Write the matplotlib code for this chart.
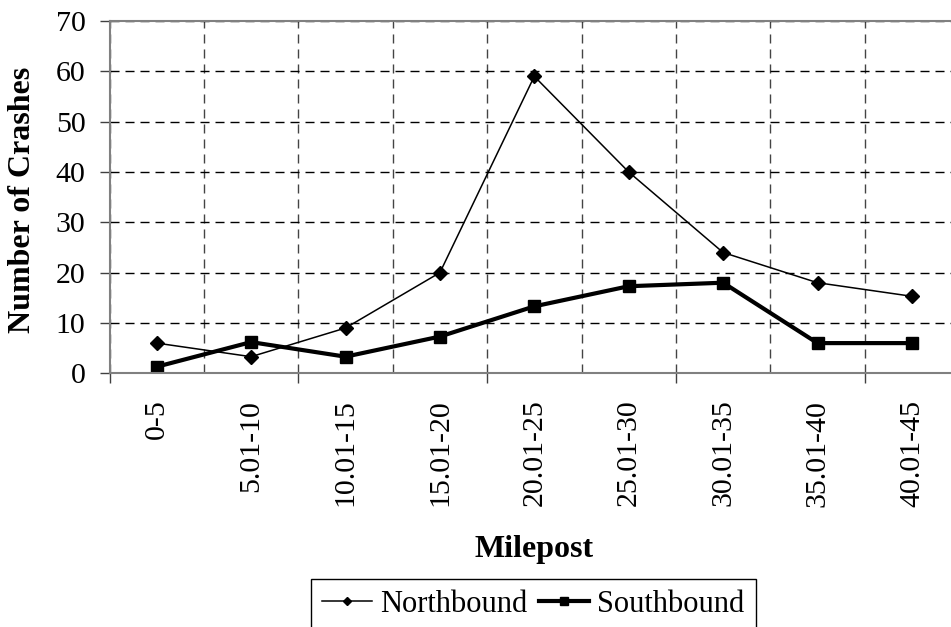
import matplotlib

matplotlib.use("Agg")
import matplotlib.pyplot as plt
import numpy as np

CATEGORIES = ["0-5", "5.01-10", "10.01-15", "15.01-20", "20.01-25",
              "25.01-30", "30.01-35", "35.01-40", "40.01-45"]
NORTHBOUND = [6, 3.3, 9, 20, 59, 40, 24, 18, 15.3]
SOUTHBOUND = [1.3, 6.2, 3.3, 7.3, 13.3, 17.3, 18, 6, 6]
Y_TICKS = [0, 10, 20, 30, 40, 50, 60, 70]

W, H = 951, 627
plt.rcParams["font.family"] = ["Liberation Serif", "DejaVu Serif"]

fig = plt.figure(figsize=(W / 100, H / 100), dpi=100)
# plot area runs past the right edge of the picture, as in the source
ax = fig.add_axes([109.5 / W, (H - 373.3) / H, 849.6 / W, 352.3 / H])

x = np.arange(len(CATEGORIES))
ax.plot(x, NORTHBOUND, "-D", color="black", lw=1.1, ms=7, label="Northbound")
ax.plot(x, SOUTHBOUND, "-s", color="black", lw=3.0, ms=8.5, label="Southbound")

ax.set_xlim(-0.5, len(CATEGORIES) - 0.5)
ax.set_ylim(0, 70)

# y axis
ax.set_yticks(Y_TICKS)
ax.tick_params(axis="y", direction="out", length=7.2, width=1, color="#404040",
               pad=10, labelsize=21.5)
ax.yaxis.grid(True, color="black", lw=1.0, ls=(0, (6.5, 4.3)))

# x axis: labels at category centres, grid/ticks at boundaries
ax.set_xticks(x)
ax.set_xticklabels(CATEGORIES, rotation=90, va="top", ha="center")
ax.tick_params(axis="x", which="major", length=0, pad=19, labelsize=21.5)
bounds = np.arange(len(CATEGORIES) + 1) - 0.5
ax.set_xticks(bounds, minor=True)
ax.tick_params(axis="x", which="minor", direction="out", length=7, width=1,
               color="#404040")
ax.xaxis.grid(True, which="minor", color="#444444", lw=1.0, ls=(0, (6.5, 4.3)))
for i, t in enumerate(ax.xaxis.get_minor_ticks()):
    if i % 2:
        t.tick1line.set_visible(False)
ax.set_axisbelow(True)

for s in ax.spines.values():
    s.set_color("#808080")
    s.set_linewidth(1.5)

fig.text(23 / W, 1 - 200 / H, "Number of Crashes", rotation=90, ha="center",
         va="center", fontsize=23, fontweight="bold")
fig.text(534 / W, 1 - 557 / H, "Milepost", ha="center", va="baseline",
         fontsize=23, fontweight="bold")

fig.legend(loc="upper left", bbox_to_anchor=(311 / W, 1 - 579 / H), ncol=2,
           fontsize=22, frameon=True, fancybox=False, framealpha=1,
           edgecolor="black", borderaxespad=0, borderpad=0.36,
           handlelength=1.64, handletextpad=0.26, columnspacing=0.39,
           markerscale=0.6)

fig.savefig("out.png", dpi=100)
